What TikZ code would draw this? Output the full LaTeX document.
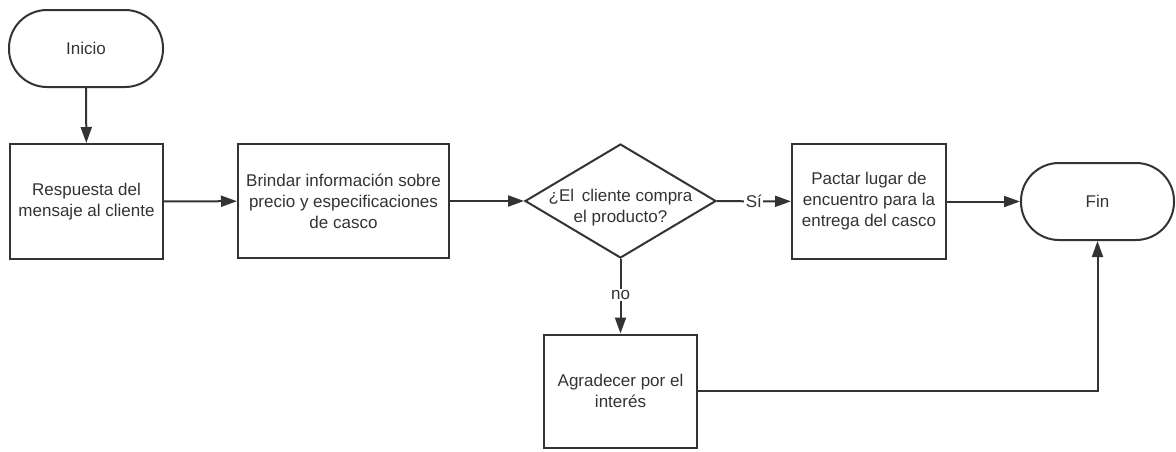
\documentclass[tikz,border=0pt]{standalone}
\usepackage{fontspec}
\setmainfont{Liberation Sans}
\usetikzlibrary{shapes.geometric,arrows.meta}
\definecolor{ink}{HTML}{333333}
\begin{document}
\begin{tikzpicture}[x=1pt,y=-1pt,
  every node/.style={font=\fontsize{17}{21}\selectfont, text=ink},
  base/.style={draw=ink, line width=2pt, inner sep=0pt},
  proc/.style={base, rectangle, align=center, minimum width=154pt, minimum height=115pt},
  term/.style={base, rectangle, rounded corners=38pt, minimum width=154pt, minimum height=77pt},
  flow/.style={draw=ink, line width=2pt, -{Triangle[length=16pt,width=11pt]}},
  tag/.style={fill=white, inner sep=1.5pt}
]
\useasboundingbox (0,0) rectangle (1176,451);

% terminals
\node[term] (start) at (86,48.5) {Inicio};
\node[term, minimum width=153pt] (fin) at (1097.5,201.5) {Fin};

% process steps
\node[proc, minimum width=153pt] (b1) at (86.5,201.5) {Respuesta del\\mensaje al cliente};
\node[proc, minimum width=211pt, minimum height=114pt] (b2) at (343.5,201) {Brindar información sobre\\precio y especificaciones\\de casco};
\node[proc] (b3) at (869,201.5) {Pactar lugar de\\encuentro para la\\entrega del casco};
\node[proc, minimum width=153pt, minimum height=113pt] (b4) at (620.5,391) {Agradecer por el\\interés};

% decision
\node[base, diamond, minimum width=191pt, minimum height=114pt] (d) at (620.5,201) {};
\node[align=center] (dq) at (620.5,208) {¿El\hspace{0.45em}cliente compra\\el producto?};

% connectors
\draw[flow] (start) -- (b1);
\draw[flow] (b1) -- (b2);
\draw[flow] (b2) -- (d);
\draw[flow] (d) -- node[tag] {Sí} (b3);
\draw[flow] (b3) -- (fin);
\draw[flow] (d) -- node[tag, pos=0.48] {no} (b4);
\draw[flow] (b4.east) -| (fin.south);
\end{tikzpicture}
\end{document}
